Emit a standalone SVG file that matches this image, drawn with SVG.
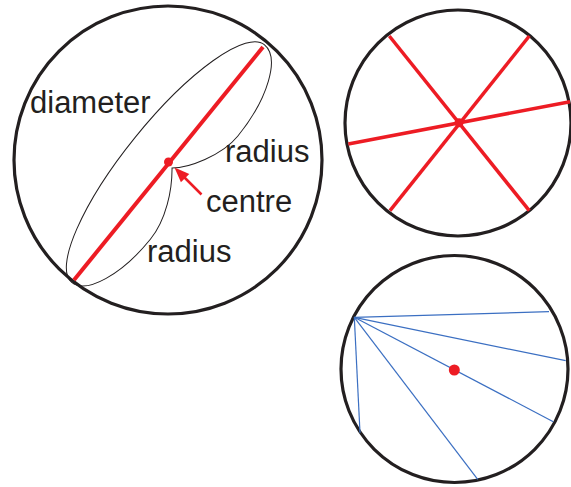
<svg xmlns="http://www.w3.org/2000/svg" width="571" height="487" viewBox="0 0 571 487">
<style>
.circ{fill:none;stroke:#231f20;stroke-width:3.2}
.red{stroke:#ed1c24;fill:none;stroke-linecap:butt}
.blue{stroke:#3b6fc2;stroke-width:1.2;fill:none}
.thin{fill:none;stroke:#231f20;stroke-width:1}
.lbl{font-family:"Liberation Sans",Arial,sans-serif;font-size:31px;fill:#231f20}
</style>
<rect width="571" height="487" fill="#ffffff"/>
<g id="circle-main">
<circle class="circ" cx="168" cy="160" r="154"/>
<line class="red" x1="74" y1="280" x2="263" y2="47" style="stroke-width:4"/>
<path class="thin" transform="translate(168,163.5) rotate(-51)" d="M -1,6 C 9,18.4 40,37 65,37 C 113.6,37 153,20.4 153,0 A 153 42 0 0 0 -153 0 C -153,18.8 -115.8,34 -70,34 C -45,34 -18,20 -1,6 Z"/>
<circle cx="168.5" cy="162" r="4.5" fill="#ed1c24"/>
</g>
<g id="labels">
<text class="lbl" x="30" y="113">diameter</text>
<text class="lbl" x="225" y="162">radius</text>
<text class="lbl" x="206" y="212">centre</text>
<text class="lbl" x="147" y="262">radius</text>
</g>
<g id="connectors">
<line class="red" x1="201.5" y1="194.5" x2="184" y2="177" style="stroke-width:2.5"/>
<polygon points="174.5,167.5 189.3,173.9 180.9,182.3" fill="#ed1c24"/>
</g>
<g id="circle-diameters">
<circle class="circ" cx="458" cy="123" r="113"/>
<line class="red" x1="389.3" y1="36" x2="529.3" y2="210.7" style="stroke-width:3.5"/>
<line class="red" x1="529.3" y1="36" x2="390" y2="210.7" style="stroke-width:3.5"/>
<line class="red" x1="348.3" y1="144" x2="570" y2="101.7" style="stroke-width:3.5"/>
<circle cx="459" cy="122.7" r="4.5" fill="#ed1c24"/>
</g>
<g id="circle-chords">
<circle class="circ" cx="454.5" cy="369" r="113.5"/>
<line class="blue" x1="354.3" y1="317.3" x2="549" y2="311.7"/>
<line class="blue" x1="354.3" y1="317.3" x2="565.7" y2="360.7"/>
<line class="blue" x1="354.3" y1="317.3" x2="553.3" y2="421.7"/>
<line class="blue" x1="354.3" y1="317.3" x2="477.7" y2="479.3"/>
<line class="blue" x1="354.3" y1="317.3" x2="360" y2="432.7"/>
<circle cx="454.3" cy="370" r="5.5" fill="#ed1c24"/>
</g>
</svg>
